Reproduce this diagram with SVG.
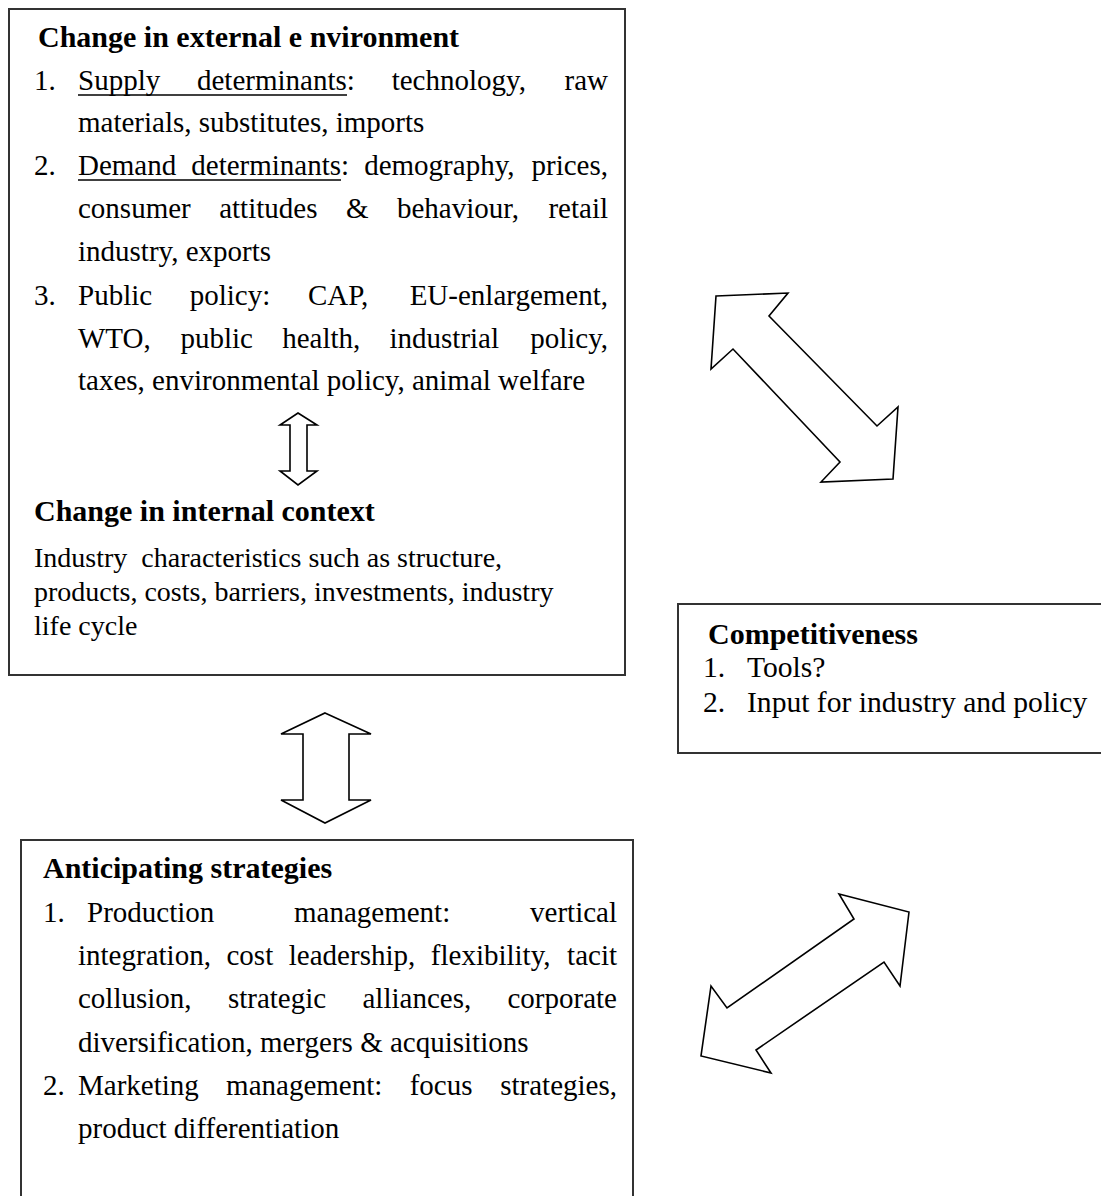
<svg xmlns="http://www.w3.org/2000/svg" width="1101" height="1196" viewBox="0 0 1101 1196">
  <style>
    .box { fill: #fff; stroke: #333; stroke-width: 2; }
    .arrow { fill: #fff; stroke: #000; stroke-width: 1.6; stroke-linejoin: miter; }
    text { font-family: "Liberation Serif", "Times New Roman", serif; fill: #000; }
    .t { font-size: 29px; }
    .s { font-size: 28px; }
    .c { font-size: 29.6px; }
    .h { font-size: 30px; font-weight: bold; }
    .ul { stroke: #000; stroke-width: 1.6; }
  </style>

  <rect width="1101" height="1196" fill="#fff"/>

  <!-- External environment + internal context -->
  <g id="node-environment">
    <rect class="box" x="9" y="9" width="616" height="666"/>
    <text class="h" x="38" y="47">Change in external e nvironment</text>

    <text class="t" y="90"><tspan x="34">1.</tspan><tspan x="78">Supply</tspan><tspan x="197">determinants:</tspan><tspan x="391.7">technology,</tspan><tspan x="608" text-anchor="end">raw</tspan></text>
    <line class="ul" x1="78" y1="95" x2="347" y2="95"/>
    <text class="t" x="78" y="132">materials, substitutes, imports</text>

    <text class="t" y="175"><tspan x="34">2.</tspan><tspan x="78">Demand</tspan><tspan x="191.3">determinants:</tspan><tspan x="364.2">demography,</tspan><tspan x="608" text-anchor="end">prices,</tspan></text>
    <line class="ul" x1="78" y1="180" x2="341" y2="180"/>
    <text class="t" y="218"><tspan x="78">consumer</tspan><tspan x="219.2">attitudes</tspan><tspan x="345.9">&amp;</tspan><tspan x="396.9">behaviour,</tspan><tspan x="608" text-anchor="end">retail</tspan></text>
    <text class="t" x="78" y="261">industry, exports</text>

    <text class="t" y="305"><tspan x="34">3.</tspan><tspan x="78">Public</tspan><tspan x="189.7">policy:</tspan><tspan x="307.9">CAP,</tspan><tspan x="608" text-anchor="end">EU-enlargement,</tspan></text>
    <text class="t" y="348"><tspan x="78">WTO,</tspan><tspan x="180.5">public</tspan><tspan x="282.2">health,</tspan><tspan x="389.5">industrial</tspan><tspan x="608" text-anchor="end">policy,</tspan></text>
    <text class="t" x="78" y="390">taxes, environmental policy, animal welfare</text>

    <!-- link between external and internal change -->
    <polygon class="arrow" points="298,413 317,425 307,425 307,471 317,471 298,485 280,471 290,471 290,425 280,425"/>

    <text class="h" x="34" y="521">Change in internal context</text>
    <text class="s" x="34" y="567" xml:space="preserve">Industry  characteristics such as structure,</text>
    <text class="s" x="34" y="601">products, costs, barriers, investments, industry</text>
    <text class="s" x="34" y="635">life cycle</text>
  </g>

  <!-- Competitiveness -->
  <g id="node-competitiveness">
    <rect class="box" x="678" y="604" width="440" height="149"/>
    <text class="h" x="708" y="644">Competitiveness</text>
    <text class="c" y="677"><tspan x="703">1.</tspan><tspan x="747">Tools?</tspan></text>
    <text class="c" y="712"><tspan x="703">2.</tspan><tspan x="747">Input for industry and policy</tspan></text>
  </g>

  <!-- Anticipating strategies -->
  <g id="node-strategies">
    <rect class="box" x="21" y="840" width="612" height="380"/>
    <text class="h" x="43" y="878">Anticipating strategies</text>
    <text class="t" y="922"><tspan x="43">1.</tspan><tspan x="87">Production</tspan><tspan x="294">management:</tspan><tspan x="617" text-anchor="end">vertical</tspan></text>
    <text class="t" y="965"><tspan x="78">integration,</tspan><tspan x="226.5">cost</tspan><tspan x="288.8">leadership,</tspan><tspan x="430.8">flexibility,</tspan><tspan x="617" text-anchor="end">tacit</tspan></text>
    <text class="t" y="1008"><tspan x="78">collusion,</tspan><tspan x="227.9">strategic</tspan><tspan x="362.5">alliances,</tspan><tspan x="617" text-anchor="end">corporate</tspan></text>
    <text class="t" x="78" y="1052">diversification, mergers &amp; acquisitions</text>
    <text class="t" y="1095"><tspan x="43">2.</tspan><tspan x="78">Marketing</tspan><tspan x="226.1">management:</tspan><tspan x="409.7">focus</tspan><tspan x="617" text-anchor="end">strategies,</tspan></text>
    <text class="t" x="78" y="1138">product differentiation</text>
  </g>

  <!-- Two-way block arrows between the nodes -->
  <g id="connectors">
    <polygon class="arrow" points="325,713 371,734 349,734 349,800 371,800 325,823 281,800 303,800 303,734 281,734"/>
    <polygon class="arrow" points="716,296 788,293 769,316 877,426 898,407 893,479 821,482 840,462 733,349 711,369"/>
    <polygon class="arrow" points="909,912 900,986 884,962 756,1050 771,1073 701,1056 711,986 727,1008 854,919 839,894"/>
  </g>
</svg>
